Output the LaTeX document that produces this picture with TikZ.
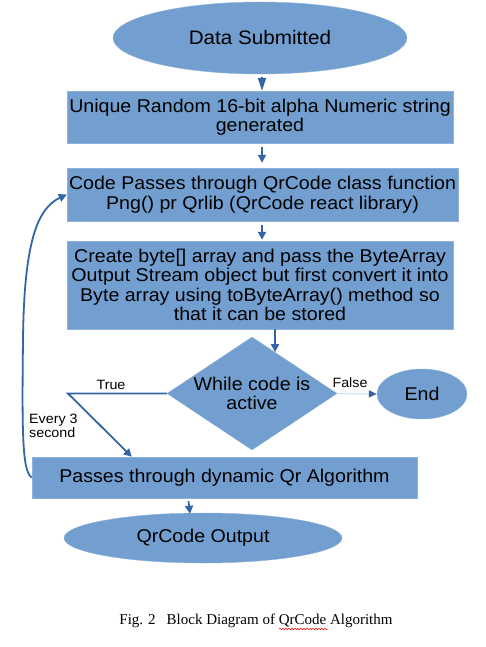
\documentclass[tikz,border=0pt]{standalone}
\usepackage{fontspec}
\setmainfont{Liberation Sans}[FakeStretch=1.06]
\newfontfamily\capfont{Liberation Serif}
\usetikzlibrary{shapes.geometric,arrows.meta,calc,decorations.pathmorphing}
\definecolor{boxblue}{HTML}{729FCF}
\definecolor{arrowblue}{HTML}{3465A4}
\definecolor{paleline}{HTML}{DCE6F2}
\tikzset{
  blk/.style={fill=boxblue, draw=boxblue!80!white, inner sep=0pt, align=center,
    font=\fontsize{18.5}{19.5}\selectfont},
  boxnode/.style={blk, rectangle},
  ovalnode/.style={blk, ellipse},
  flow/.style={draw=arrowblue, line width=1.8pt, -{Triangle[length=8pt,width=8pt]}},
  headonly/.style={draw=arrowblue, line width=1.8pt, -{Triangle[length=13pt,width=8pt]}},
  smalllbl/.style={font=\fontsize{13.5}{14.5}\selectfont, inner sep=0pt, align=left}
}
\begin{document}
\begin{tikzpicture}[x=1pt,y=-1pt]
\useasboundingbox (0,0) rectangle (486,647);
\node[ovalnode, minimum width=294pt, minimum height=72pt, font=\fontsize{19.5}{20.5}\selectfont] (ds) at (260,38) {Data Submitted};
\node[boxnode, minimum width=386pt, minimum height=52pt] (b1) at (260,117)
  {Unique Random 16-bit alpha Numeric string\\generated};
\node[boxnode, minimum width=391pt, minimum height=53pt] (b2) at (262.5,194.5)
  {Code Passes through QrCode class function\\Png() pr Qrlib (QrCode react library)};
\node[boxnode, minimum width=386pt, minimum height=88pt] (b3) at (260,285)
  {Create byte[] array and pass the ByteArray\\Output Stream object but first convert it into\\Byte array using toByteArray() method so\\that it can be stored};
\node[blk, diamond, minimum width=170pt, minimum height=113pt] (dia) at (252,393.5) {};
\node[blk, fill=none, draw=none] (diatext) at (dia.center) {While code is\\active};
\node[ovalnode, minimum width=90pt, minimum height=50pt] (end) at (422,394) {End};
\node[boxnode, minimum width=385pt, minimum height=41pt] (b4) at (224.5,477.5)
  {Passes through dynamic Qr Algorithm};
\node[ovalnode, minimum width=278pt, minimum height=50pt] (out) at (203,538) {QrCode Output};
\node[font=\capfont\fontsize{15}{16}\selectfont, inner sep=0pt] (cap) at (256,621)
  {Fig. 2\hspace{11pt}Block Diagram of QrCode Algorithm};

\coordinate (tcorner) at (68,393.5);
\coordinate (ttip) at ($(b4.north west)+(100,0)$);
\coordinate (dtop) at ($(dia.north)!0.27!(dia.east)$);

\draw[headonly] ($(ds.south)+(2,3)$) -- ($(b1.north)+(2,0)$);
\draw[flow] ($(b1.south)+(2,4)$) -- ($(b2.north)+(-0.5,-5)$);
\draw[flow] ($(b2.south)+(-0.5,4)$) -- ($(b3.north)+(2,-1)$);
\draw[flow] (b3.south -| dtop) -- (dtop);
\draw[paleline, line width=1.6pt, -{Triangle[length=8pt,width=7pt,color=arrowblue]}] (dia.east) -- (end.west);
\draw[flow] (dia.west) -- (tcorner) -- (ttip);
\draw[flow] (b4.west) .. controls (22,472) and (22,430) .. (23,340)
  .. controls (24,240) and (38,208) .. (b2.west);
\draw[flow] ($(b4.south)+(-36,3)$) -- ($(out.north)+(-13,1)$);

\node[smalllbl] (truelbl) at (111,385) {True};
\node[smalllbl] (falselbl) at (350,383) {False};
\node[smalllbl, anchor=west] (everylbl) at (29,426) {Every 3\\second};

\draw[red, line width=0.5pt, decorate, decoration={snake, amplitude=0.8pt, segment length=3pt}]
  (279,629) -- (328,629);
\end{tikzpicture}
\end{document}
